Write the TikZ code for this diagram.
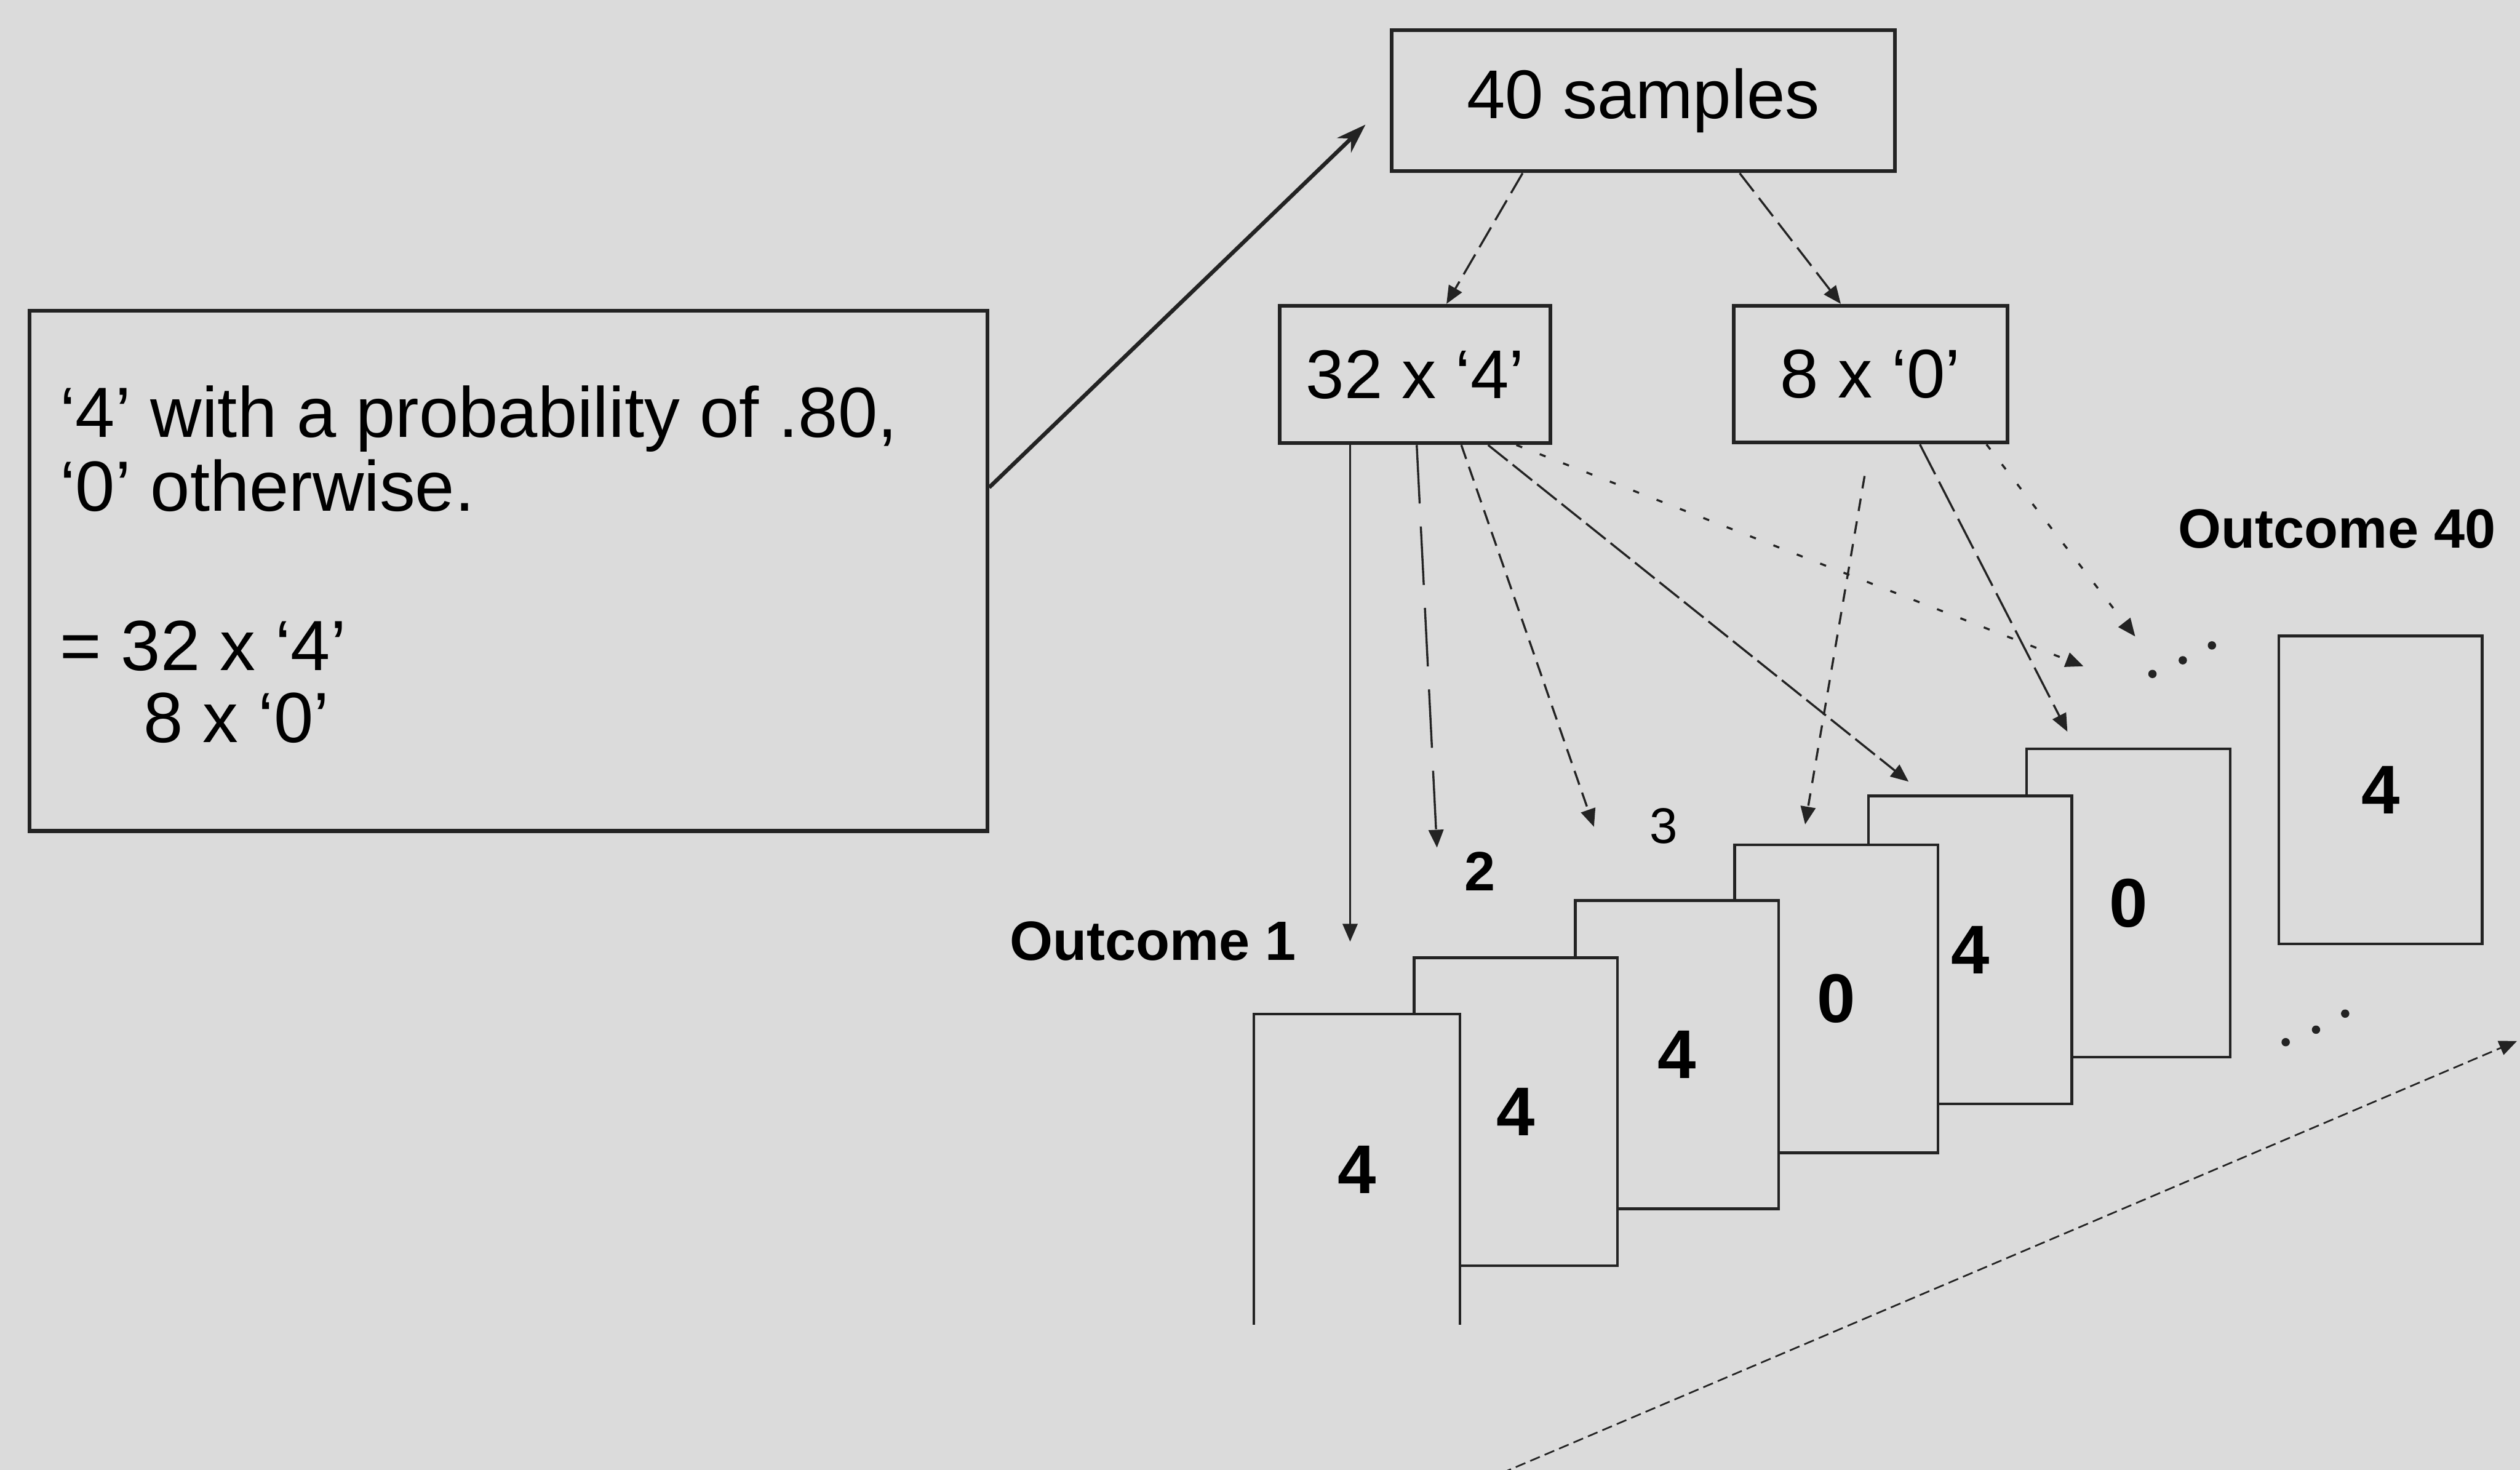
\documentclass[tikz,border=0pt]{standalone}
\usepackage{fontspec}
\setmainfont{Liberation Sans}
\usetikzlibrary{arrows.meta, calc, positioning}

\definecolor{paper}{RGB}{219,219,219}
\definecolor{ink}{RGB}{35,35,35}

\tikzset{
    arr/.style={ink, line width=1pt, -{Triangle[length=0.3cm, width=0.25cm]}},
    box/.style={draw=ink, line width=1.8pt, fill=paper, inner sep=0pt, font=\fontsize{33}{36}\selectfont},
    card/.style={draw=ink, line width=1.3pt, fill=paper, minimum width=3.42cm, minimum height=5.18cm, inner sep=0pt, font=\bfseries\fontsize{33}{36}\selectfont},
    lbl/.style={inner sep=0pt, font=\bfseries\fontsize{26.5}{30}\selectfont},
    txt/.style={inner sep=0pt, anchor=base west, font=\fontsize{34}{36}\selectfont}
}

\begin{document}
\begin{tikzpicture}[x=1cm, y=1cm]
                        \fill[paper] (0, 0) rectangle (42.37, -24.71);
                        \useasboundingbox (0, 0) rectangle (42.37, -24.71);

                        % the three boxes on top
                        \node[box, minimum width=8.46cm, minimum height=2.37cm] (samples) at (27.63, -1.695) {40 samples};
                        \node[box, minimum width=4.55cm, minimum height=2.31cm] (fours) at (23.795, -6.295) {32 x ‘4’};
                        \node[box, minimum width=4.60cm, minimum height=2.30cm] (zeros) at (31.45, -6.29) {8 x ‘0’};

                        % the rule on the left
                        \node[box, minimum width=16.10cm, minimum height=8.75cm] (rule) at (8.55, -9.595) {};
                        \node[txt] (rule1) at (1.00, -7.35) {‘4’ with a probability of .80,};
                        \node[txt] (rule2) at (1.00, -8.59) {‘0’ otherwise.};
                        \node[txt] (rule3) at (1.00, -11.27) {= 32 x ‘4’};
                        \node[txt] (rule4) at (2.41, -12.48) {8 x ‘0’};

                        % stack of outcomes, back to front
                        \node[card] (c6) at (35.785, -15.18) {0};
                        \node[card] (c5) at (33.125, -15.97) {4};
                        \node[card] (c4) at (30.875, -16.79) {0};
                        \node[card] (c3) at (28.195, -17.73) {4};
                        \node[card] (c2) at (25.485, -18.69) {4};
                        \node[card, draw=none] (c1) at (22.815, -19.66) {4};
                        \draw[ink, line width=1.3pt] (c1.south west) -- (c1.north west) -- (c1.north east) -- (c1.south east);
                        \node[card] (c40) at (40.025, -13.28) {4};

                        \node[lbl, anchor=base east] (out1) at (21.80, -16.14) {Outcome 1};
                        \node[lbl] (two) at (24.88, -14.65) {2};
                        \node[inner sep=0pt, font=\fontsize{24}{28}\selectfont] (three) at (27.97, -13.89) {3};
                        \node[lbl, anchor=base west] (out40) at (36.62, -9.21) {Outcome 40};

                        % arrow ends
                        \coordinate (t1) at (22.70, -15.83);
                        \coordinate (t2) at (24.16, -14.25);
                        \coordinate (t3) at (26.80, -13.90);
                        \coordinate (t5) at (32.09, -13.14);
                        \coordinate (t40a) at (35.03, -11.20);
                        \coordinate (t4) at (30.35, -13.86);
                        \coordinate (t6) at (34.76, -12.30);
                        \coordinate (t40b) at (35.90, -10.70);
                        \coordinate (low) at (25.00, -24.87);
                        \coordinate (lowend) at (42.32, -17.50);

                        \draw[line width=1.9pt, ink, -{Stealth[length=0.5cm, width=0.34cm]}]
                        ([yshift=1.4cm]rule.east) -- ([xshift=-0.41cm, yshift=-0.4cm]samples.west);
                        \draw
                        ([xshift=-2.03cm]samples.south) edge[arr, dash pattern=on 11pt off 4pt] ([xshift=0.525cm]fours.north)
                        ([xshift=1.62cm]samples.south) edge[arr, dash pattern=on 11pt off 4pt] ([xshift=-0.5cm]zeros.north)
                        ([xshift=-1.095cm]fours.south) edge[arr] (t1)
                        ([xshift=0.025cm]fours.south) edge[arr, dash pattern=on 28pt off 11pt] (t2)
                        ([xshift=0.775cm]fours.south) edge[arr, dash pattern=on 7pt off 4pt] (t3)
                        ([xshift=1.225cm]fours.south) edge[arr, dash pattern=on 12pt off 3pt] (t5)
                        ([xshift=1.70cm]fours.south) edge[arr, dash pattern=on 3pt off 9pt] (t40a)
                        ([xshift=-0.10cm, yshift=-0.53cm]zeros.south) edge[arr, dash pattern=on 6pt off 5pt] (t4)
                        ([xshift=0.83cm]zeros.south) edge[arr, dash pattern=on 16pt off 4pt] (t6)
                        ([xshift=1.95cm]zeros.south) edge[arr, dash pattern=on 3pt off 9pt] (t40b)
                        (low) edge[arr, line width=0.8pt, dash pattern=on 5pt off 2.5pt] (lowend);

                        % dots for the skipped outcomes
                        \fill[ink] (36.19, -11.33) circle (0.07) (36.70, -11.10) circle (0.07) (37.19, -10.85) circle (0.07);
                        \fill[ink] (38.43, -17.52) circle (0.07) (38.94, -17.31) circle (0.07) (39.43, -17.04) circle (0.07);
                    \end{tikzpicture}
\end{document}
